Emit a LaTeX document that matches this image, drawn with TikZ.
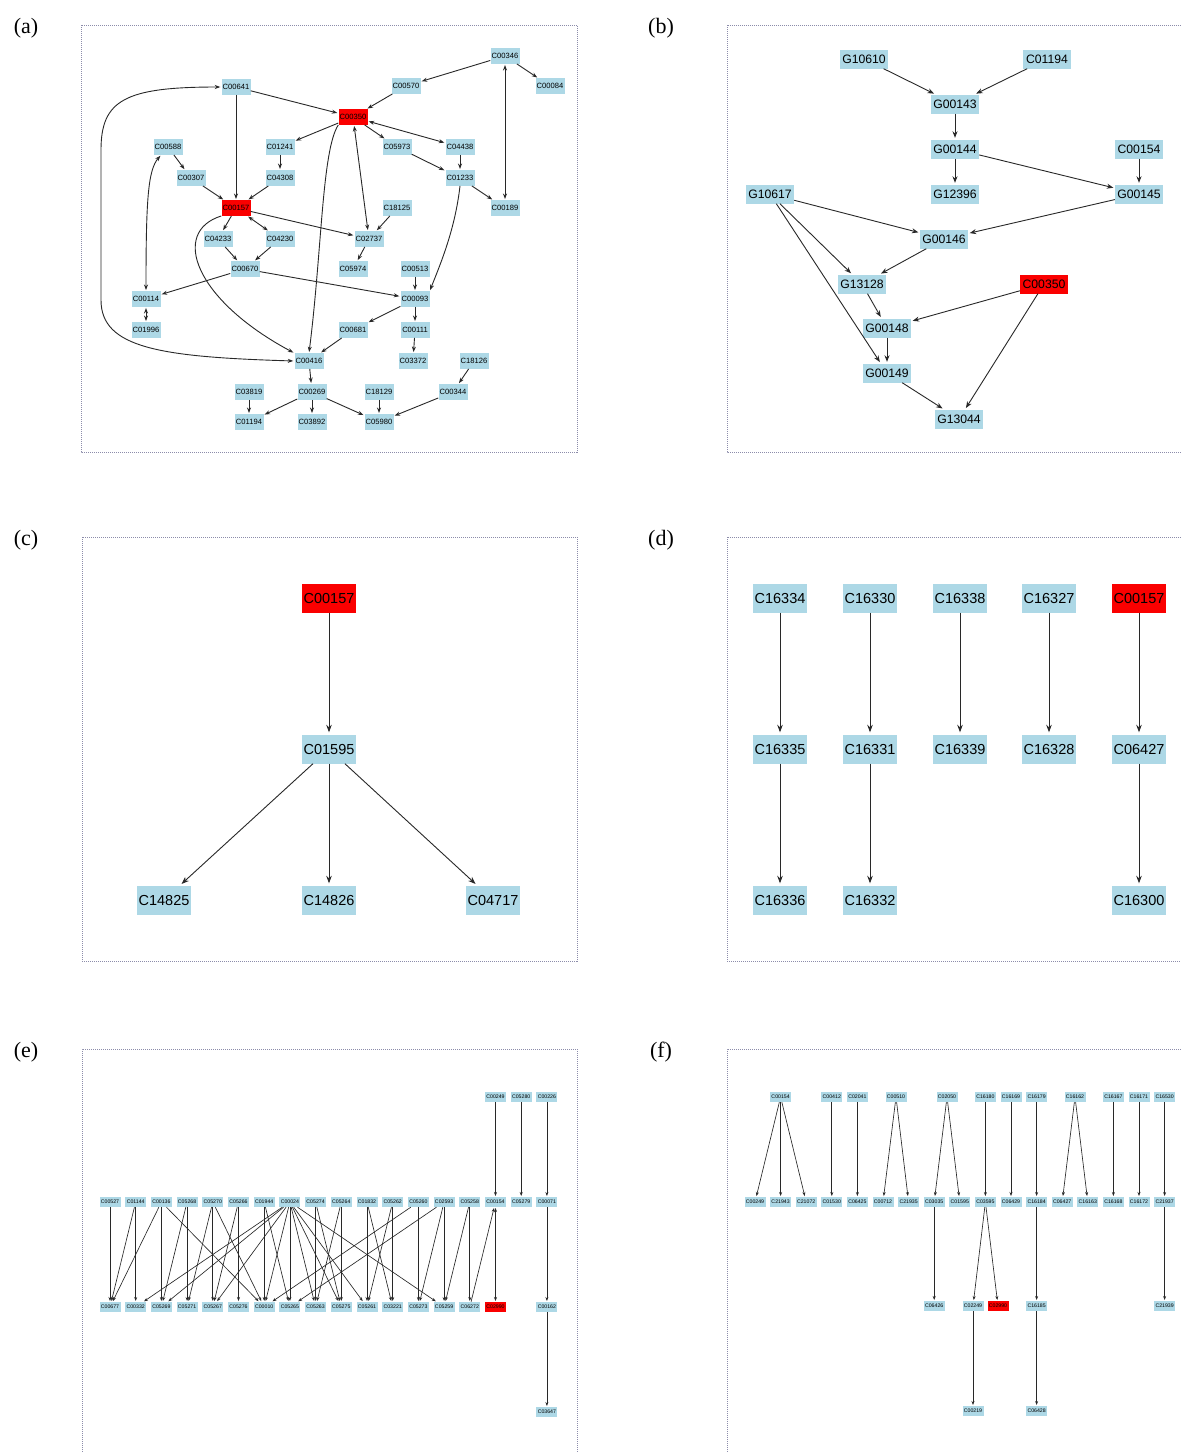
\documentclass[tikz,border=0pt]{standalone}
\usepackage{fontspec}
\setmainfont{Liberation Sans}
\newfontfamily\lblfont{Liberation Serif}
\usetikzlibrary{arrows.meta}
\definecolor{nblue}{RGB}{173,216,230}
\definecolor{nred}{RGB}{250,0,0}
\definecolor{egray}{RGB}{40,40,40}
\definecolor{fgray}{RGB}{140,140,170}
\begin{document}
\begin{tikzpicture}[x=1pt,y=-1pt,
 base/.style={fill=nblue, inner sep=0pt, text=black},
 na/.style={base, minimum width=29pt, minimum height=15.5pt, font=\fontsize{7.6}{8}\selectfont},
 nb/.style={base, minimum width=48pt, minimum height=19pt, font=\fontsize{12.2}{13}\selectfont},
 nc/.style={base, minimum width=54pt, minimum height=29pt, font=\fontsize{14.5}{15}\selectfont},
 ne/.style={base, minimum width=21pt, minimum height=10pt, font=\fontsize{5.2}{6}\selectfont},
 hot/.style={fill=nred},
 ea/.style={draw=egray, line width=0.9pt, -{Stealth[length=5.5pt,width=4pt]}, shorten >=1pt},
 eaa/.style={draw=egray, line width=0.9pt, {Stealth[length=5.5pt,width=4pt]}-{Stealth[length=5.5pt,width=4pt]}, shorten >=1pt, shorten <=1pt},
 eb/.style={draw=egray, line width=0.9pt, -{Stealth[length=6.5pt,width=5pt]}, shorten >=1.5pt},
 ec/.style={draw=egray, line width=0.9pt, -{Stealth[length=7.5pt,width=5.5pt]}, shorten >=2pt},
 ee/.style={draw=egray, line width=0.65pt, -{Stealth[length=4pt,width=3pt]}, shorten >=0.8pt},
 eee/.style={draw=egray, line width=0.65pt, {Stealth[length=4pt,width=3pt]}-{Stealth[length=4pt,width=3pt]}, shorten >=0.8pt, shorten <=0.8pt},
 framed/.style={draw=fgray, line width=0.6pt, dash pattern=on 1pt off 1pt},
 plabel/.style={font=\lblfont\fontsize{22}{24}\selectfont}
]
\useasboundingbox (0,0) rectangle (1181,1452);
\fill[white] (0,0) rectangle (1181,1452);

% frames
\draw[framed] (81,25) rectangle (577,452);
\draw[framed] (1181,25) -- (727,25) -- (727,452) -- (1181,452);
\draw[framed] (82,537) rectangle (577,961);
\draw[framed] (1181,537) -- (727,537) -- (727,961) -- (1181,961);
\draw[framed] (82,1452) -- (82,1049) -- (577,1049) -- (577,1452);
\draw[framed] (727,1452) -- (727,1049) -- (1181,1049);

% panel labels
\node[plabel] (la) at (26,28) {(a)};
\node[plabel] (lb) at (661,28) {(b)};
\node[plabel] (lc) at (26,540) {(c)};
\node[plabel] (ld) at (661,540) {(d)};
\node[plabel] (le) at (26,1052) {(e)};
\node[plabel] (lf) at (661,1052) {(f)};

% ================= (a)
\foreach \n/\x/\y in {C00641/236/87, C00346/505/56, C00570/406/86, C00084/550/86,
  C00588/168/147, C01241/280/147, C05973/397/147, C04438/460/147,
  C00307/191/178, C04308/280/178, C01233/460/178,
  C18125/397/208, C00189/505/208,
  C04233/218/239, C04230/280/239, C02737/369/239,
  C00670/245/269, C05974/353/269, C00513/415/269,
  C00114/146/299, C00093/415/299,
  C01996/146/330, C00681/353/330, C00111/415/330,
  C00416/309/361, C03372/413/361, C18126/474/361,
  C03819/249/392, C00269/312/392, C18129/379/392, C00344/453/392,
  C01194/249/422, C03892/312/422, C05980/379/422}
  \node[na] (a\n) at (\x,\y) {\n};
\node[na,hot] (aC00350) at (353,117) {C00350};
\node[na,hot] (aC00157) at (236,208) {C00157};

\foreach \s/\t in {C00641/C00350, C00641/C00157, C00588/C00307, C00307/C00157,
  C01241/C04308, C04308/C00157, C00350/C01241, C00157/C04233,
  C04233/C00670, C04230/C00670, C00670/C00114, C00670/C00093,
  C00157/C02737, C00350/C05973, C00570/C00350, C00346/C00570, C00346/C00084,
  C04438/C01233, C05973/C01233, C01233/C00189, C18125/C02737, C02737/C05974,
  C00513/C00093, C00093/C00681, C00093/C00111, C00681/C00416, C00111/C03372,
  C18126/C00344, C00344/C05980, C18129/C05980, C00269/C05980, C00416/C00269,
  C00269/C01194, C03819/C01194, C00269/C03892}
  \draw[ea] (a\s) -- (a\t);
\foreach \s/\t in {C00157/C04230, C00114/C01996, C00350/C02737, C00350/C04438, C00346/C00189}
  \draw[eaa] (a\s) -- (a\t);
\draw[eaa] (aC00641.west) .. controls (125,87) and (101,100) .. (101,150) -- (101,300) .. controls (101,348) and (160,357) .. (aC00416.west);
\draw[eaa] (aC00588) .. controls (148,170) and (146,200) .. (aC00114.north);
\draw[ea] (aC00157.south west) .. controls (170,232) and (195,300) .. (aC00416.north west);
\draw[ea] (aC00350.south west) .. controls (322,150) and (322,250) .. (aC00416.north);
\draw[ea] (aC01233.south) .. controls (455,230) and (440,265) .. (aC00093.north east);

% ================= (b)
\foreach \n/\x/\y in {G10610/864/59, C01194/1047/59, G00143/955/104, G00144/955/149,
  C00154/1139/149, G12396/955/194, G00145/1139/194, G10617/770/194, G00146/944/239,
  G13128/862/284, G00148/887/328, G00149/887/373, G13044/959/419}
  \node[nb] (b\n) at (\x,\y) {\n};
\node[nb,hot] (bC00350) at (1044,284) {C00350};
\foreach \s/\t in {G10610/G00143, C01194/G00143, G00143/G00144, G00144/G12396,
  G00144/G00145, C00154/G00145, G00145/G00146, G10617/G00146, G10617/G13128,
  G10617/G00149, G00146/G13128, G13128/G00148, C00350/G00148, G00148/G00149,
  C00350/G13044, G00149/G13044}
  \draw[eb] (b\s) -- (b\t);

% ================= (c)
\node[nc,hot] (cC00157) at (329,598) {C00157};
\node[nc] (cC01595) at (329,749) {C01595};
\node[nc] (cC14825) at (164,900) {C14825};
\node[nc] (cC14826) at (329,900) {C14826};
\node[nc] (cC04717) at (493,900) {C04717};
\foreach \s/\t in {C00157/C01595, C01595/C14825, C01595/C14826, C01595/C04717}
  \draw[ec] (c\s) -- (c\t);

% ================= (d)
\foreach \n/\x/\y in {C16334/780/598, C16335/780/749, C16336/780/900,
  C16330/870/598, C16331/870/749, C16332/870/900,
  C16338/960/598, C16339/960/749, C16327/1049/598, C16328/1049/749,
  C06427/1139/749, C16300/1139/900}
  \node[nc] (d\n) at (\x,\y) {\n};
\node[nc,hot] (dC00157) at (1139,598) {C00157};
\foreach \s/\t in {C16334/C16335, C16335/C16336, C16330/C16331, C16331/C16332,
  C16338/C16339, C16327/C16328, C00157/C06427, C06427/C16300}
  \draw[ec] (d\s) -- (d\t);

% ================= (e)
\foreach \n/\x in {C00249/495.5, C05280/521.2, C00226/546.9}
  \node[ne] (e\n) at (\x,1097) {\n};
\foreach \n/\x in {C00527/110, C01144/135.7, C00136/161.4, C05268/187.1, C05270/212.8,
  C05266/238.5, C01944/264.2, C00024/289.9, C05274/315.6, C05264/341.3, C01832/367,
  C05262/392.7, C05260/418.4, C02593/444.1, C05258/469.8, C00154/495.5, C05279/521.2,
  C00071/546.9}
  \node[ne] (e\n) at (\x,1202) {\n};
\foreach \n/\x in {C00677/110, C00332/135.7, C05269/161.4, C05271/187.1, C05267/212.8,
  C05276/238.5, C00010/264.2, C05265/289.9, C05263/315.6, C05275/341.3, C05261/367,
  C03221/392.7, C05273/418.4, C05259/444.1, C06272/469.8, C00162/546.9}
  \node[ne] (e\n) at (\x,1307) {\n};
\node[ne,hot] (eC02990) at (495.5,1307) {C02990};
\node[ne] (eC03647) at (546.9,1412) {C03647};
\foreach \s/\t in {C00527/C00677, C01144/C00677, C01144/C00332, C00136/C00677,
  C00136/C05269, C00136/C00010, C05268/C05269, C05268/C05271, C05270/C05271,
  C05270/C05267, C05270/C00010, C05266/C05267, C05266/C05276, C01944/C00010,
  C01944/C05265, C00024/C00332, C00024/C05269, C00024/C05267, C00024/C00010,
  C00024/C05265, C00024/C05263, C00024/C05275, C00024/C05261, C00024/C05259,
  C05274/C05263, C05274/C05275, C05264/C05275, C05264/C05263, C01832/C05261,
  C01832/C03221, C05262/C03221, C05262/C05261, C05260/C05273, C05260/C00010,
  C02593/C05259, C02593/C05273, C02593/C05265, C05258/C06272, C05258/C05259,
  C06272/C00154, C00249/C00154, C05280/C05279, C00226/C00071, C00071/C00162,
  C00162/C03647}
  \draw[ee] (e\s) -- (e\t);
\draw[eee] (eC00154) -- (eC02990);

% ================= (f)
\foreach \n/\x in {C00154/780.6, C00412/831.8, C02041/857.4, C00510/896, C02050/947,
  C16180/985.4, C16169/1011, C16179/1036.6, C16162/1075, C16167/1113.4, C16171/1139,
  C16530/1164.6}
  \node[ne] (f\n) at (\x,1097) {\n};
\foreach \n/\x in {C00249/755, C21943/780.6, C21072/806.2, C01530/831.8, C06425/857.4,
  C00712/883, C21935/908.6, C03035/934.2, C01595/959.8, C03595/985.4, C06429/1011,
  C16184/1036.6, C06427/1062.2, C16163/1087.8, C16168/1113.4, C16172/1139, C21937/1164.6}
  \node[ne] (f\n) at (\x,1202) {\n};
\foreach \n/\x in {C06426/934.2, C02249/973, C16185/1036.6, C21939/1164.6}
  \node[ne] (f\n) at (\x,1306) {\n};
\node[ne,hot] (fC02990) at (998,1306) {C02990};
\node[ne] (fC00219) at (973,1411) {C00219};
\node[ne] (fC06428) at (1036.6,1411) {C06428};
\foreach \s/\t in {C00154/C00249, C00154/C21943, C00154/C21072, C00412/C01530,
  C02041/C06425, C00510/C00712, C00510/C21935, C02050/C03035, C02050/C01595,
  C16180/C03595, C16169/C06429, C16179/C16184, C16162/C06427, C16162/C16163,
  C16167/C16168, C16171/C16172, C16530/C21937, C03035/C06426, C03595/C02249,
  C03595/C02990, C16184/C16185, C21937/C21939, C02249/C00219, C16185/C06428}
  \draw[ee] (f\s) -- (f\t);
\end{tikzpicture}
\end{document}
